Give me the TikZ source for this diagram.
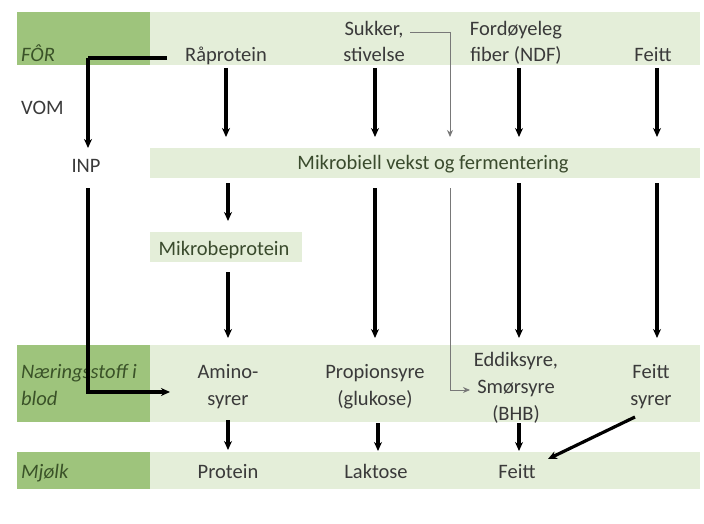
\documentclass[tikz,border=0pt]{standalone}
\usepackage{fontspec}
\setmainfont{Carlito}
\usetikzlibrary{arrows.meta}
\definecolor{dkg}{RGB}{158,196,124}
\definecolor{ltg}{RGB}{228,238,217}
\definecolor{txt}{RGB}{58,58,58}
\definecolor{lbl}{RGB}{58,82,40}
\definecolor{thin}{RGB}{120,120,120}
\tikzset{
  band/.style={fill=ltg, inner sep=0pt, anchor=north west},
  head/.style={fill=dkg, inner sep=0pt, anchor=north west},
  lab/.style={text=lbl, font=\fontsize{20.5}{26.8}\selectfont\itshape, align=left, anchor=base west, inner sep=0pt},
  tx/.style={text=txt, align=center, inner sep=0pt, anchor=base},
  fat/.style={line width=3.2pt, draw=black, -{Stealth[length=9pt,width=8pt]}},
  fatline/.style={line width=3.2pt, draw=black},
  slim/.style={line width=0.9pt, draw=thin, -{Stealth[length=7pt,width=6pt]}},
  slimline/.style={line width=0.9pt, draw=thin}
}
\begin{document}
\begin{tikzpicture}[x=1pt,y=-1pt, font=\fontsize{20.5}{26.8}\selectfont]
\useasboundingbox (0,0) rectangle (704,524);
% bands
\node[band, minimum width=550pt, minimum height=53pt] (b1) at (150,12) {};
\node[head, minimum width=133pt, minimum height=53pt] (h1) at (17,12) {};
\node[band, minimum width=550pt, minimum height=30pt] (b2) at (150,148) {};
\node[band, minimum width=152pt, minimum height=30pt] (b3) at (150,232) {};
\node[band, minimum width=550pt, minimum height=77pt] (b4) at (150,345) {};
\node[head, minimum width=133pt, minimum height=77pt] (h4) at (17,345) {};
\node[band, minimum width=550pt, minimum height=37pt] (b5) at (150,452) {};
\node[head, minimum width=133pt, minimum height=37pt] (h5) at (17,452) {};
% row labels
\node[lab] (for) at (21,62) {FÔR};
\node[lab, text=txt, font=\fontsize{20.5}{26.8}\selectfont] (vom) at (21,115) {VOM};
\node[lab] (naer) at (21,405) {Næringsstoff i\\blod};
\node[lab] (mjolk) at (21,478) {Mjølk};
% feed row
\node[tx] (rp) at (226,62) {Råprotein};
\node[tx] (suk) at (374,62) {Sukker,\\stivelse};
\node[tx] (ndf) at (516,62) {Fordøyeleg\\fiber (NDF)};
\node[tx] (fe) at (653,62) {Feitt};
% rumen
\node[tx] (inp) at (86,172) {INP};
\node[tx, text=lbl!70!txt] (mik) at (433,169) {Mikrobiell vekst og fermentering};
\node[tx, text=lbl!70!txt] (mbp) at (224,255) {Mikrobeprotein};
% blood
\node[tx] (amino) at (228,405) {Amino-\\syrer};
\node[tx] (prop) at (375,405) {Propionsyre\\(glukose)};
\node[tx] (edd) at (516,420) {Eddiksyre,\\Smørsyre\\(BHB)};
\node[tx] (fsy) at (651,405) {Feitt\\syrer};
% milk
\node[tx] (prot) at (228,478) {Protein};
\node[tx] (lak) at (376,478) {Laktose};
\node[tx] (mfe) at (517,478) {Feitt};
% coordinates
\coordinate (r0) at (167,58);
\coordinate (c1) at (88,58);
\coordinate (c1e) at (88,148);
\coordinate (i0) at (88,188);
\coordinate (c2) at (88,392);
\coordinate (a0) at (170,392);
\coordinate (s0) at (410,32);
\coordinate (s1) at (450,32);
\coordinate (s2) at (450,188);
\coordinate (s3) at (450,390);
\coordinate (e0) at (470,390);
% feed -> rumen arrows
\draw[fat] (226,68) -- (226,137);
\draw[fat] (375,68) -- (375,137);
\draw[fat] (519,68) -- (519,137);
\draw[fat] (657,68) -- (657,137);
% Råprotein -> INP
\draw[fatline] (r0) -- (c1);
\draw[fat] (c1) -- (c1e);
% INP -> Aminosyrer
\draw[fat] (i0) -- (c2) -- (a0);
% thin sukker path
\draw[slimline] (s0) -- (s1);
\draw[slim] (s1) -- (450,137);
\draw[slim] (s2) -- (s3) -- (e0);
% rumen -> mikrobeprotein
\draw[fat] (228,183) -- (228,221);
\draw[fat] (228,272) -- (228,338);
% rumen -> blood
\draw[fat] (375,188) -- (375,338);
\draw[fat] (519,183) -- (519,338);
\draw[fat] (657,183) -- (657,338);
% blood -> milk
\draw[fat] (228,420) -- (228,450);
\draw[fat] (378,423) -- (378,451);
\draw[fat] (519,423) -- (519,451);
\draw[fat] (635,417) -- (548,459);
\end{tikzpicture}
\end{document}
